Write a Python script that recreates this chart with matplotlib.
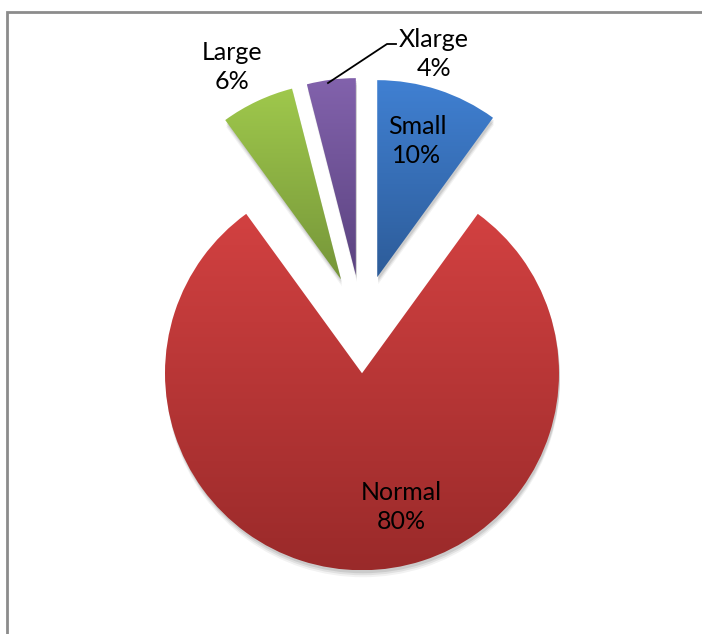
import numpy as np
import matplotlib.pyplot as plt
from matplotlib.colors import LinearSegmentedColormap

plt.rcParams['font.family'] = ['Lato', 'DejaVu Sans']

# Datos del gráfico
categorias = ['Small', 'Normal', 'Large', 'Xlarge']
porcentajes = [10, 80, 6, 4]
colores_arriba = ['#4080d2', '#d24141', '#9fc84c', '#8262ac']
colores_abajo = ['#2d5c99', '#9a2a2a', '#769639', '#5b4380']

W, H = 702, 634
fig = plt.figure(figsize=(W / 100, H / 100), dpi=100)
ax = fig.add_axes([0, 0, 1, 1])
ax.set_xlim(0, W)
ax.set_ylim(0, H)
ax.set_aspect('equal')
ax.axis('off')

centro = (362, H - 324)
radio = 197
sep = [0.25 * radio] * 4   # explode va en unidades de datos

# Sombra suave debajo del pastel
for k, a in zip([7, 5, 3], [0.05, 0.07, 0.09]):
    ws, _ = ax.pie(porcentajes, startangle=90, counterclock=False,
                   explode=sep, radius=radio,
                   center=(centro[0] + 1, centro[1] - k), frame=True,
                   colors=['#000000'] * 4)
    for w in ws:
        w.set_alpha(a)
        w.set_linewidth(0)

cunas, _ = ax.pie(porcentajes, startangle=90, counterclock=False,
                  explode=sep, radius=radio, center=centro,
                  frame=True, colors=['none'] * 4,
                  wedgeprops=dict(linewidth=0))

# Relleno degradado vertical en cada porción
grad = np.linspace(0, 1, 256).reshape(-1, 1)
for cuna, c1, c2 in zip(cunas, colores_arriba, colores_abajo):
    cmap = LinearSegmentedColormap.from_list('g', [c2, c1])
    x0, y0, x1, y1 = cuna.get_path().get_extents(cuna.get_transform()).extents
    inv = ax.transData.inverted()
    (x0, y0), (x1, y1) = inv.transform([(x0, y0), (x1, y1)])
    im = ax.imshow(grad, cmap=cmap, extent=[x0, x1, y0, y1],
                   origin='lower', aspect='auto', zorder=2)
    im.set_clip_path(cuna)

ax.set_xlim(0, W)
ax.set_ylim(0, H)

# Etiquetas
fs = 18
ls = 1.3
ax.text(417, H - 141, 'Small\n10%', ha='center', va='center', fontsize=fs,
        linespacing=ls, zorder=5)
ax.text(401, H - 507, 'Normal\n80%', ha='center', va='center', fontsize=fs,
        linespacing=ls, zorder=5)
ax.text(232, H - 67, 'Large\n6%', ha='center', va='center', fontsize=fs,
        linespacing=ls, zorder=5)
ax.text(434, H - 54, 'Xlarge\n4%', ha='center', va='center', fontsize=fs,
        linespacing=ls, zorder=5)
ax.plot([328, 387, 396], [H - 83, H - 44, H - 44], color='black', lw=1.3,
        zorder=5)

# Marco del área del gráfico (solo lados izquierdo y superior visibles)
ax.plot([7, 7, W + 5], [-5, H - 12, H - 12], color='#8c8c8c', lw=2,
        solid_joinstyle='miter', zorder=6, clip_on=False)

fig.savefig('out.png', dpi=100)
